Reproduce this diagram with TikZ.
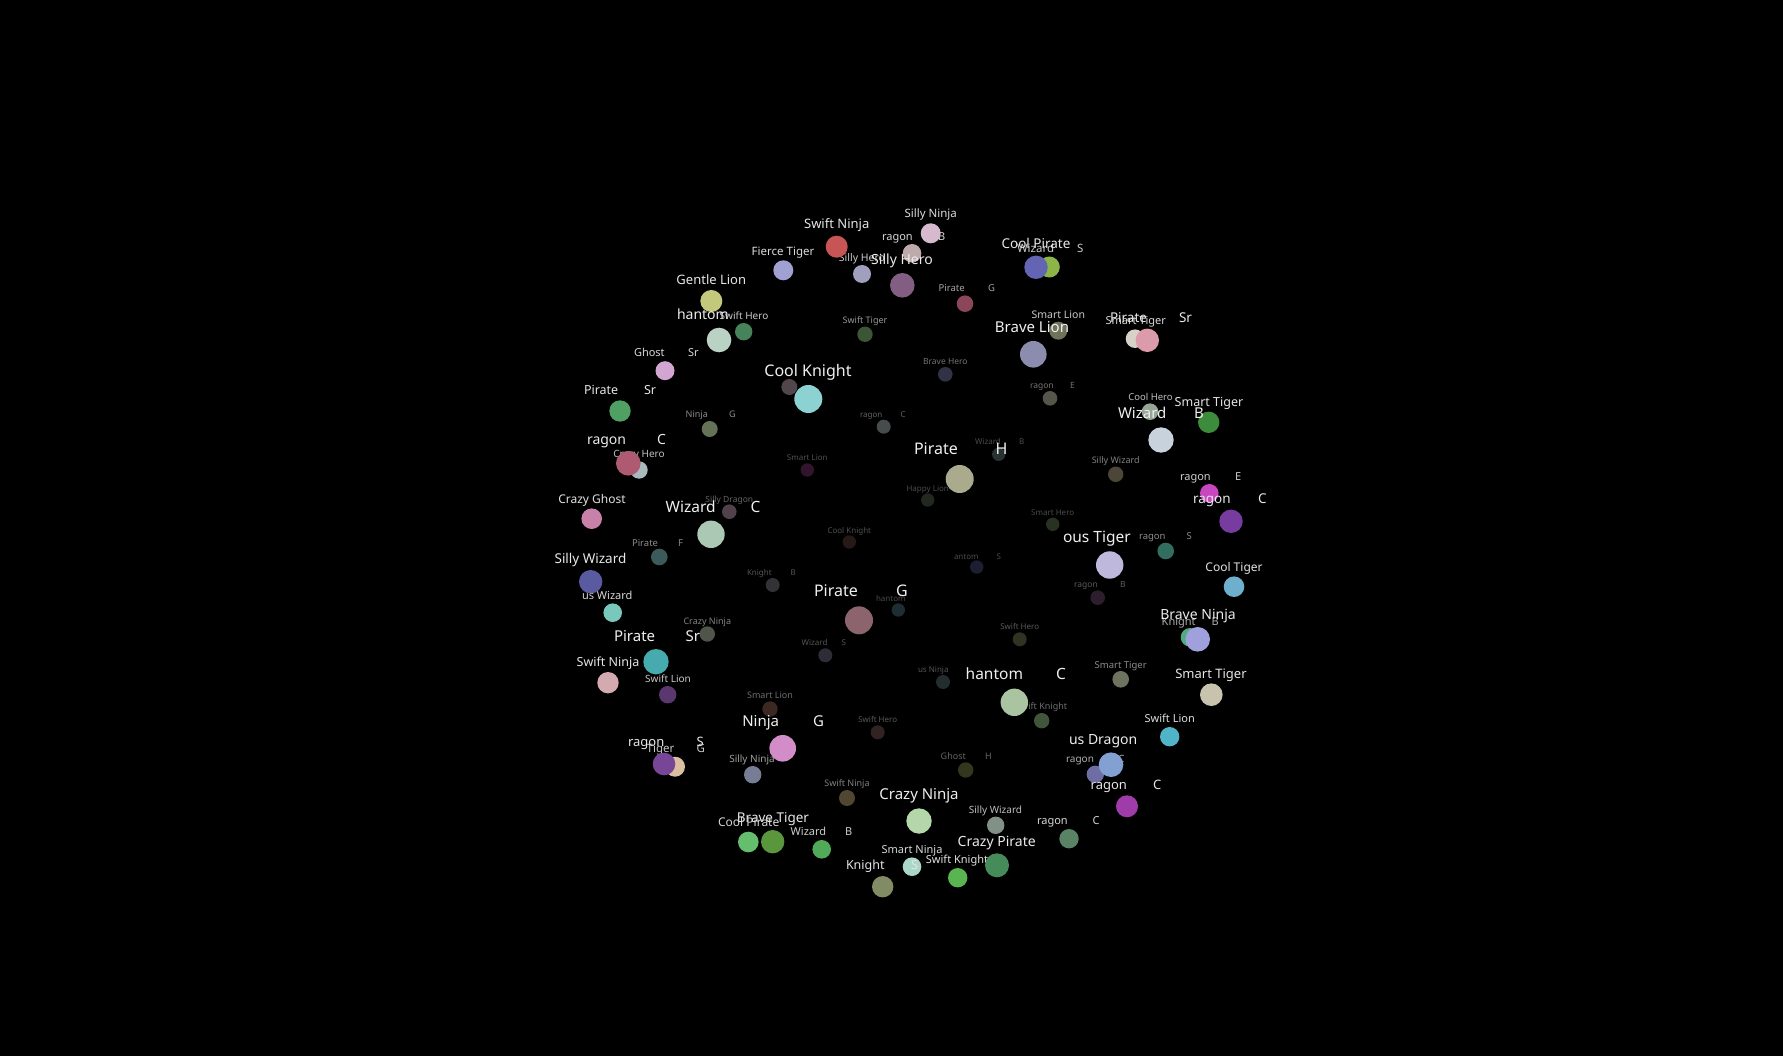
\documentclass[tikz,border=0pt]{standalone}
\usepackage{fontspec}
\setmainfont{Noto Sans}
\tikzset{
 dotst/.style={circle, inner sep=0pt, outer sep=0pt, draw=none},
 labst/.style={inner sep=0pt, outer sep=0pt, anchor=mid, yshift=-2.8pt},
 labwst/.style={inner sep=0pt, outer sep=0pt, anchor=mid west, yshift=-2.8pt},
}
\newcommand\dotn[7]{\node[dotst, minimum size={2*#4pt}, fill={rgb,255:red,#5;green,#6;blue,#7}] (#1) at (#2,#3) {};}
\newcommand\labc[6]{\node[labst, text={rgb,255:red,#5;green,#5;blue,#5}, font=\fontsize{#4}{#4}\selectfont] (#1) at (#2,#3) {#6};}
\newcommand\labw[6]{\node[labwst, text={rgb,255:red,#5;green,#5;blue,#5}, font=\fontsize{#4}{#4}\selectfont] (#1) at (#2,#3) {#6};}
\begin{document}
\begin{tikzpicture}[x=1pt,y=-1pt]
\fill[black] (0,0) rectangle (1783,1056);
\useasboundingbox (0,0) rectangle (1783,1056);
% r 6.7
\dotn{d01}{807.3}{470}{6.7}{50}{20}{45}
\labc{l01}{807.3}{455.3}{8}{80}{Smart Lion}
\dotn{d02}{927.7}{500}{6.7}{35}{40}{30}
\labc{l02}{927.7}{486}{8}{75}{Happy Lion}
\dotn{d03}{849.3}{542}{6.7}{40}{25}{25}
\labc{l03}{849.3}{527.7}{8}{80}{Cool Knight}
\dotn{d04}{976.7}{567}{6.7}{30}{30}{50}
\labw{l04a}{954}{554}{8}{75}{antom}
\labw{l04b}{996.5}{554}{8}{75}{S}
\dotn{d05}{998.7}{454.3}{6.7}{40}{50}{50}
\labw{l05a}{975}{439.3}{8}{75}{Wizard}
\labw{l05b}{1019}{439.3}{8}{75}{B}
\dotn{d06}{898.3}{610}{6.7}{30}{45}{50}
\labw{l06}{876}{595.7}{8}{75}{hantom}
\dotn{d07}{1052.7}{524.3}{6.7}{40}{50}{35}
\labc{l07}{1052.7}{510}{8}{75}{Smart Hero}
% r 7
\dotn{d08}{883.7}{426.7}{7}{70}{75}{75}
\labw{l08a}{860}{412.3}{8}{100}{ragon}
\labw{l08b}{900.7}{412.3}{8}{100}{C}
\dotn{d09}{772.7}{585}{7}{50}{50}{55}
\labw{l09a}{747}{570}{8}{85}{Knight}
\labw{l09b}{790.7}{570}{8}{85}{B}
\dotn{d10}{825.3}{655.3}{7}{45}{45}{55}
\labw{l10a}{801.7}{640.3}{8}{85}{Wizard}
\labw{l10b}{841.7}{640.3}{8}{85}{S}
\dotn{d11}{1019.7}{639.3}{7}{50}{50}{35}
\labc{l11}{1019.7}{624.3}{8}{90}{Swift Hero}
\dotn{d12}{943}{682}{7}{35}{45}{45}
\labw{l12}{918}{667.3}{8}{85}{us Ninja}
\dotn{d13}{877.7}{732.3}{7}{50}{35}{35}
\labc{l13}{877.7}{716.7}{8}{90}{Swift Hero}
% 7.3
\dotn{d14}{729.3}{511.7}{7.3}{80}{65}{75}
\labc{l14}{729.3}{496.7}{8.5}{100}{Silly Dragon}
\dotn{d15}{945.3}{374.3}{7.3}{50}{50}{70}
\labc{l15}{945.3}{359}{8.5}{115}{Brave Hero}
\dotn{d16}{1050}{398.3}{7.3}{85}{85}{75}
\labw{l16a}{1030}{383}{8.5}{115}{ragon}
\labw{l16b}{1070}{383}{8.5}{115}{E}
\dotn{d17}{1097.7}{597.7}{7.3}{45}{30}{45}
\labw{l17a}{1074}{582.3}{8.5}{90}{ragon}
\labw{l17b}{1120}{582.3}{8.5}{90}{B}
% 7.7
\dotn{d18}{865}{334.3}{7.7}{60}{85}{55}
\labc{l18}{865}{318}{9}{150}{Swift Tiger}
\dotn{d19}{1115.7}{474.3}{7.7}{75}{70}{55}
\labc{l19}{1115.7}{458}{9}{130}{Silly Wizard}
\dotn{d20}{707.3}{634}{7.7}{80}{85}{75}
\labc{l20}{707.3}{618.7}{9}{130}{Crazy Ninja}
\dotn{d21}{770}{709}{7.7}{60}{40}{35}
\labc{l21}{770}{693}{9}{110}{Smart Lion}
\dotn{d22}{965.7}{770}{7.7}{50}{55}{30}
\labw{l22a}{940.7}{754}{9}{100}{Ghost}
\labw{l22b}{985}{754}{9}{100}{H}
\dotn{d23}{1041.7}{720.7}{7.7}{65}{85}{60}
\labc{l23}{1041.7}{704.3}{9}{110}{Swift Knight}
% 8
\dotn{d24}{709.7}{429}{8}{100}{115}{85}
\labw{l24a}{685.7}{412.3}{9}{140}{Ninja}
\labw{l24b}{729}{412.3}{9}{140}{G}
\dotn{d25}{847}{798}{8}{80}{70}{50}
\labc{l25}{847}{781}{9}{130}{Swift Ninja}
\dotn{d26}{789.3}{387}{8}{80}{70}{75}
% 8.3
\dotn{d27}{965}{303.7}{8.3}{140}{70}{90}
\labw{l27a}{938.7}{286.3}{9.5}{165}{Pirate}
\labw{l27b}{988}{286.3}{9.5}{165}{G}
\dotn{d28}{659.3}{557}{8.3}{60}{90}{90}
\labw{l28a}{632}{540.7}{9.5}{140}{Pirate}
\labw{l28b}{678}{540.7}{9.5}{140}{F}
\dotn{d29}{1150}{411.7}{8.3}{150}{165}{150}
\labc{l29}{1150.5}{394.7}{9.5}{190}{Cool Hero}
\dotn{d30}{1165.7}{551}{8.3}{50}{110}{95}
\labw{l30a}{1139}{534.3}{9.5}{140}{ragon}
\labw{l30b}{1186.7}{534.3}{9.5}{140}{S}
\dotn{d31}{1120.7}{679.3}{8.3}{110}{115}{95}
\labc{l31}{1120.7}{663.3}{9.5}{140}{Smart Tiger}
% 8.7
\dotn{d32}{743.7}{331.7}{8.7}{70}{130}{90}
\labc{l32}{744}{313.7}{10}{200}{Swift Hero}
\dotn{d33}{639}{470}{8.7}{170}{185}{190}
\labc{l33}{639}{452}{10}{190}{Crazy Hero}
\dotn{d34}{667.7}{694.7}{8.7}{90}{55}{110}
\labc{l34}{668}{677}{10}{200}{Swift Lion}
\dotn{d35}{752.7}{774.7}{8.7}{120}{125}{150}
\labc{l35}{752}{757.3}{10}{160}{Silly Ninja}
\dotn{d36}{995.7}{825.3}{8.7}{130}{145}{135}
\labc{l36}{995.5}{807.7}{10}{190}{Silly Wizard}
\dotn{d37}{1095.3}{774.3}{8.7}{110}{110}{165}
\labw{l37a}{1066}{756.7}{10}{175}{ragon}
\labw{l37b}{1118}{756.7}{10}{175}{C}
% 9
\dotn{d38}{862}{274}{9}{160}{160}{190}
\labc{l38}{862}{256}{10.5}{200}{Silly Hero}
\dotn{d39}{1058.3}{330.7}{9}{110}{115}{90}
\labc{l39}{1058.3}{313.3}{10.5}{200}{Smart Lion}
% 9.3
\dotn{d40}{912}{253.3}{9.3}{190}{170}{170}
\labw{l40a}{882}{235}{11}{215}{ragon}
\labw{l40b}{938}{235}{11}{215}{B}
\dotn{d41}{665}{370.7}{9.5}{210}{165}{210}
\labw{l41a}{634}{351}{11}{215}{Ghost}
\labw{l41b}{688}{351}{11}{215}{Sr}
\dotn{d42}{1135}{338.7}{9.3}{215}{210}{200}
\labc{l42}{1135.7}{319}{11}{215}{Smart Tiger}
\dotn{d43}{612.7}{612.7}{9.3}{120}{200}{190}
\labw{l43}{582}{594}{11}{215}{us Wizard}
\dotn{d44}{1209.3}{493.3}{9.3}{200}{70}{190}
\labw{l44a}{1180}{475.3}{11}{205}{ragon}
\labw{l44b}{1235}{475.3}{11}{205}{E}
\dotn{d45}{1190}{637.3}{9.3}{80}{170}{130}
\labw{l45a}{1161.7}{620}{11}{170}{Knight}
\labw{l45b}{1211.7}{620}{11}{170}{B}
\dotn{d46}{912}{866.7}{9.3}{170}{215}{200}
\labc{l46}{912}{847.7}{11}{215}{Smart Ninja}
\dotn{d47}{821.7}{849.3}{9.3}{80}{170}{90}
\labw{l47a}{790.7}{830}{11}{205}{Wizard}
\labw{l47b}{845}{830}{11}{205}{B}
% 9.7
\dotn{d48}{1169.7}{736.7}{9.7}{80}{180}{200}
\labc{l48}{1169.7}{717}{11}{220}{Swift Lion}
\dotn{d49}{1069}{838.7}{9.7}{90}{130}{100}
\labw{l49a}{1037}{819}{11}{215}{ragon}
\labw{l49b}{1092.7}{819}{11}{215}{C}
\dotn{d50}{957.7}{877.7}{9.7}{90}{180}{80}
\labc{l50}{957}{857.7}{11}{225}{Swift Knight}
% 10
\dotn{d51}{783.3}{270.3}{10}{160}{160}{210}
\labc{l51}{783}{250.3}{11.5}{220}{Fierce Tiger}
\dotn{d52}{930.7}{233.3}{10}{215}{185}{205}
\labc{l52}{930.7}{212.3}{11.5}{220}{Silly Ninja}
\dotn{d53}{675}{766.7}{10}{220}{190}{160}
\labw{l53a}{646.7}{747}{11.5}{200}{Tiger}
\labw{l53b}{696.7}{747}{11.5}{200}{G}
\dotn{d54}{591.7}{518.7}{10.3}{200}{130}{170}
\labc{l54}{592}{498.3}{12}{225}{Crazy Ghost}
\dotn{d55}{748.3}{842}{10.3}{100}{190}{110}
\labc{l55}{748.7}{820.7}{12}{215}{Cool Pirate}
\dotn{d56}{1234}{586.7}{10.3}{110}{175}{205}
\labc{l56}{1234}{565.7}{12}{225}{Cool Tiger}
\dotn{d57}{1049.3}{267}{10.5}{140}{180}{70}
\labw{l57a}{1017}{246.7}{11.5}{205}{Wizard}
\labw{l57b}{1077}{246.7}{11.5}{205}{S}
% 10.7
\dotn{d58}{620}{411}{10.7}{80}{160}{100}
\labw{l58a}{584}{389}{12.5}{228}{Pirate}
\labw{l58b}{644}{389}{12.5}{228}{Sr}
\dotn{d59}{1208.7}{422.3}{10.7}{60}{140}{60}
\labc{l59}{1209}{401}{12.5}{228}{Smart Tiger}
\dotn{d60}{608}{682.7}{10.7}{210}{170}{175}
\labc{l60}{608}{660.7}{12.5}{228}{Swift Ninja}
\dotn{d61}{882.7}{886.7}{10.7}{130}{140}{100}
\labw{l61a}{846}{864}{12.5}{228}{Knight}
\labw{l61b}{911}{864}{12.5}{228}{S}
% 11
\dotn{d62}{711.3}{301}{11}{195}{200}{125}
\labc{l62}{711.3}{278.7}{13}{230}{Gentle Lion}
\dotn{d63}{836.7}{246.7}{11}{200}{85}{85}
\labc{l63}{836.7}{223.3}{13}{230}{Swift Ninja}
\dotn{d64}{1127}{806.3}{11}{160}{60}{170}
\labw{l64a}{1090.7}{784}{13}{230}{ragon}
\labw{l64b}{1153}{784}{13}{230}{C}
\dotn{d65}{664}{764}{11.3}{120}{70}{150}
\labw{l65a}{628}{741}{13}{230}{ragon}
\labw{l65b}{696.7}{741}{13}{230}{S}
\dotn{d66}{1211.3}{694.7}{11.3}{200}{195}{175}
\labc{l66}{1211}{672.7}{13}{230}{Smart Tiger}
\dotn{d67}{1036}{267.3}{11.7}{100}{100}{180}
\labc{l67}{1036}{243}{13.5}{232}{Cool Pirate}
\dotn{d68}{1147.3}{340.3}{11.7}{220}{155}{170}
\labw{l68a}{1110}{317.3}{13.5}{232}{Pirate}
\labw{l68b}{1179}{317.3}{13.5}{232}{Sr}
\dotn{d69}{590.7}{581.7}{11.7}{90}{90}{160}
\labc{l69}{590.5}{558.3}{13.5}{232}{Silly Wizard}
\dotn{d70}{1231}{521.3}{11.7}{120}{60}{160}
\labw{l70a}{1193}{498}{13.5}{232}{ragon}
\labw{l70b}{1258}{498}{13.5}{232}{C}
\dotn{d71}{772.7}{841.7}{11.7}{90}{150}{60}
\labc{l71}{773}{817.3}{13.5}{232}{Brave Tiger}
% 12+
\dotn{d72}{997}{865.3}{12}{70}{140}{90}
\labc{l72}{996.7}{841}{14}{235}{Crazy Pirate}
\dotn{d73}{902.3}{285.3}{12.3}{130}{95}{130}
\labc{l73}{902}{259.3}{14}{235}{Silly Hero}
\dotn{d74}{719}{340}{12.3}{185}{210}{195}
\labw{l74}{677}{314.3}{14}{238}{hantom}
\dotn{d75}{628.3}{463.3}{12.3}{175}{90}{115}
\labw{l75a}{587}{438.7}{14}{235}{ragon}
\labw{l75b}{657}{438.7}{14}{235}{C}
\dotn{d76}{1197.7}{639.3}{12.3}{160}{160}{220}
\labc{l76}{1198}{614}{14}{235}{Brave Ninja}
\dotn{d77}{1111}{764.7}{12.3}{130}{160}{210}
\labw{l77}{1069}{739}{14}{238}{us Dragon}
\dotn{d78}{656}{661.7}{12.7}{70}{170}{175}
\labw{l78a}{614}{635.7}{15}{238}{Pirate}
\labw{l78b}{685.7}{635.7}{15}{238}{Sr}
\dotn{d79}{1161}{440}{12.7}{200}{210}{220}
\labw{l79a}{1118}{413.3}{15}{238}{Wizard}
\labw{l79b}{1194}{413.3}{15}{238}{B}
\dotn{d80}{919}{821}{12.7}{180}{215}{170}
\labc{l80}{919}{794}{15}{238}{Crazy Ninja}
\dotn{d81}{1033.3}{354.3}{13.3}{140}{140}{175}
\labc{l81}{1032}{326.7}{15}{240}{Brave Lion}
\dotn{d82}{782.7}{748.3}{13.3}{210}{140}{200}
\labw{l82a}{742.3}{720.7}{15}{240}{Ninja}
\labw{l82b}{813}{720.7}{15}{240}{G}
\dotn{d83}{711}{534.3}{13.7}{170}{200}{180}
\labw{l83a}{665.7}{506.7}{15.5}{240}{Wizard}
\labw{l83b}{750.7}{506.7}{15.5}{240}{C}
\dotn{d84}{1109.7}{565}{13.7}{190}{185}{220}
\labw{l84}{1063}{537.3}{15.5}{240}{ous Tiger}
\dotn{d85}{1014.3}{702.3}{13.7}{170}{195}{160}
\labw{l85a}{965.7}{674}{15.5}{240}{hantom}
\labw{l85b}{1056}{674}{15.5}{240}{C}
\dotn{d86}{808.3}{399}{14}{140}{210}{210}
\labc{l86}{808}{370.7}{16}{240}{Cool Knight}
\dotn{d87}{959.7}{479}{14}{170}{170}{140}
\labw{l87a}{914}{449.3}{16}{240}{Pirate}
\labw{l87b}{995.7}{449.3}{16}{240}{H}
\dotn{d88}{859}{620.3}{14}{140}{100}{110}
\labw{l88a}{814}{590.7}{16}{240}{Pirate}
\labw{l88b}{896}{590.7}{16}{240}{G}
\end{tikzpicture}
\end{document}
